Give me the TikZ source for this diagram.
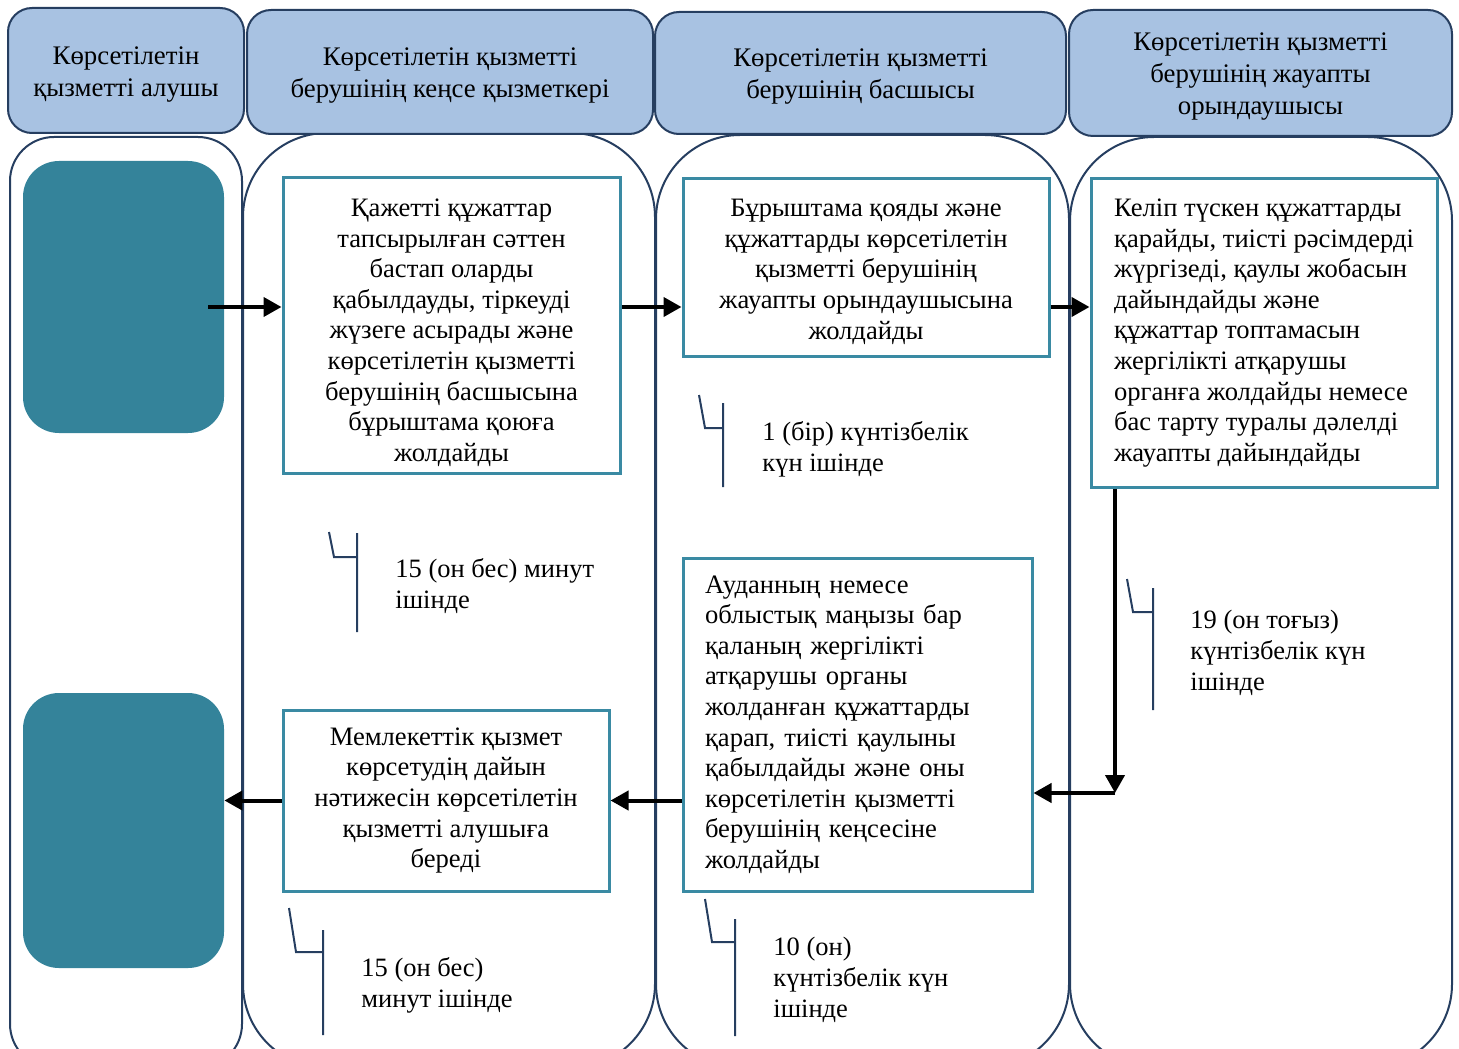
\documentclass[tikz,border=0pt]{standalone}
\usepackage{fontspec}
\setmainfont{Liberation Serif}
\usepackage{xcolor}
\usetikzlibrary{arrows.meta}

\definecolor{headfill}{RGB}{168,194,226}
\definecolor{laneline}{RGB}{38,62,96}
\definecolor{tealfill}{RGB}{52,131,154}
\definecolor{boxline}{RGB}{58,138,163}

% taller first line, pushes the text block down a little
\newcommand{\padtop}[1]{\rule{0pt}{#1}}

\begin{document}
\begin{tikzpicture}[x=0.5pt, y=-0.5pt, >={Triangle[length=9pt,width=9.5pt]},
    head/.style={draw=laneline, line width=1pt, fill=headfill, rounded corners=12pt,
      align=center, font=\fontsize{13.4}{16}\selectfont},
    lane/.style={draw=laneline, line width=1pt, rounded corners=42pt},
    who/.style={fill=tealfill, rounded corners=18pt, minimum width=100.5pt},
    task/.style={draw=boxline, line width=1.5pt, fill=white, align=center,
      font=\fontsize{13.3}{15.3}\selectfont},
    flow/.style={->, line width=2pt},
    tick/.style={draw=laneline, line width=1pt},
    term/.style={anchor=west, align=left, inner sep=0pt, font=\fontsize{13.25}{15.6}\selectfont}]
    \useasboundingbox (0,0) rectangle (1459,1048);
    % Lanes
    \draw[lane, rounded corners=22pt] (10,137) rectangle (242,1068);
    \draw[lane] (243,133) rectangle (655,1068);
    \draw[lane] (656,135) rectangle (1069,1068);
    \draw[lane] (1070,137) rectangle (1452,1068);
    % Headers
    \node[head, minimum width=118pt, minimum height=62.5pt] (h1) at (126,70.5)
        {\padtop{12.5pt}Көрсетілетін\\қызметті алушы};
    \node[head, minimum width=203pt, minimum height=62pt] (h2) at (450,72)
        {\padtop{12.5pt}Көрсетілетін қызметті\\берушінің кеңсе қызметкері};
    \node[head, minimum width=205.5pt, minimum height=61pt] (h3) at (860.5,73)
        {\padtop{12.5pt}Көрсетілетін қызметті\\берушінің басшысы};
    \node[head, minimum width=191.5pt, minimum height=63pt] (h4) at (1260.5,73)
        {\padtop{12.5pt}Көрсетілетін қызметті\\берушінің жауапты\\орындаушысы};
    % Service recipient
    \node[who, minimum height=136pt] (app) at (123.5,297) {};
    \node[who, minimum height=137.5pt] (res) at (123.5,830.5) {};
    % Steps
    \node[task, minimum width=168.5pt, minimum height=146.5pt] (A) at (451.5,325.5)
        {\padtop{16pt}Қажетті құжаттар\\тапсырылған сәттен\\бастап оларды\\қабылдауды, тіркеуді\\жүзеге асырады және\\көрсетілетін қызметті\\берушінің басшысына\\бұрыштама қоюға\\жолдайды};
    \node[task, minimum width=183pt, minimum height=88.5pt] (B) at (866,267.5)
        {\padtop{13pt}Бұрыштама қояды және\\құжаттарды көрсетілетін\\қызметті берушінің\\жауапты орындаушысына\\жолдайды};
    \node[task, align=left, minimum width=173pt, minimum height=154pt] (C) at (1264,333)
        {Келіп түскен құжаттарды\\қарайды, тиісті рәсімдерді\\жүргізеді, қаулы жобасын\\дайындайды және\\құжаттар топтамасын\\жергілікті атқарушы\\органға жолдайды немесе\\бас тарту туралы дәлелді\\жауапты дайындайды};
    \node[task, align=left, text width=152.5pt, inner xsep=11pt, minimum height=166.5pt] (D) at (857.5,724.5)
        {Ауданның немесе\\облыстық маңызы бар\\қаланың жергілікті\\атқарушы органы\\жолданған құжаттарды\\қарап, тиісті қаулыны\\қабылдайды және оны\\көрсетілетін қызметті\\берушінің кеңсесіне\\жолдайды};
    \node[task, minimum width=163pt, minimum height=90.5pt] (E) at (446,800.5)
        {Мемлекеттік қызмет\\көрсетудің дайын\\нәтижесін көрсетілетін\\қызметті алушыға\\береді};
    % Arrows
    \coordinate (go) at (208,307);
    \draw[flow] (go) -- (A.west |- go);
    \draw[flow] (A.east |- go) -- (B.west |- go);
    \draw[flow] (B.east |- go) -- (C.west |- go);
    \coordinate (turn) at (1115,793);
    \draw[flow] (C.south -| turn) -- (turn);
    \draw[flow] (turn) -- (D.east |- turn);
    \draw[flow] (D.west |- E.east) -- (E.east);
    \draw[flow] (E.west) -- (res.east |- E.west);
    % Time marks
    \draw[tick] (329,532) -- (334,557) -- (357,557) (357,533) -- (357,632);
    \draw[tick] (699,395) -- (705,428) -- (723,428) (723,403) -- (723,487);
    \draw[tick] (1127,579) -- (1133,612) -- (1153,612) (1153,588) -- (1153,710);
    \draw[tick] (289,908) -- (296,952) -- (323,952) (323,930) -- (323,1035);
    \draw[tick] (705,899) -- (712,942) -- (735,942) (735,919) -- (735,1036);
    \node[term] (t1) at (395,586) {15 (он бес) минут\\ішінде};
    \node[term] (t2) at (762,449) {1 (бір) күнтізбелік\\күн ішінде};
    \node[term] (t3) at (1190,653) {19 (он тоғыз)\\күнтізбелік күн\\ішінде};
    \node[term] (t4) at (361,985) {15 (он бес)\\минут ішінде};
    \node[term] (t5) at (773,980) {10 (он)\\күнтізбелік күн\\ішінде};
\end{tikzpicture}
\end{document}
